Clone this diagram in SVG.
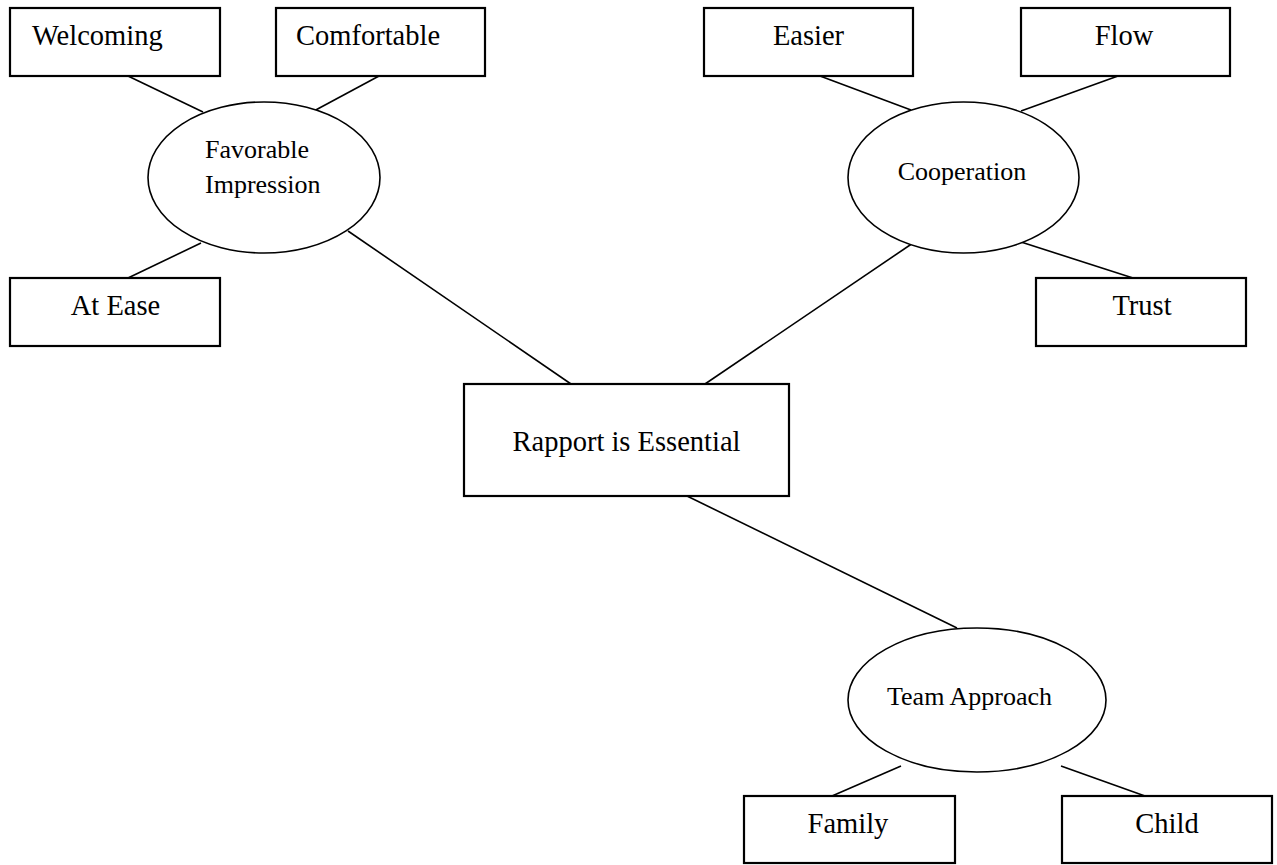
<svg xmlns="http://www.w3.org/2000/svg" width="1277" height="865" viewBox="0 0 1277 865">
<style>
.box{fill:#fff;stroke:#000;stroke-width:2.2}
.ell{fill:#fff;stroke:#000;stroke-width:1.6}
.con line{stroke:#000;stroke-width:1.6}
.t{font-family:"Liberation Serif","Times New Roman",serif;font-size:28.5px;fill:#000}
.s{font-family:"Liberation Serif","Times New Roman",serif;font-size:26px;fill:#000}
</style>
<rect width="1277" height="865" fill="#fff"/>
<g class="con" id="connectors">
<line x1="128" y1="76" x2="203" y2="112"/>
<line x1="379" y1="76" x2="312" y2="112"/>
<line x1="201" y1="243" x2="128" y2="278"/>
<line x1="348" y1="231" x2="571" y2="384"/>
<line x1="820" y1="76" x2="911" y2="110"/>
<line x1="1118" y1="76" x2="1021" y2="111"/>
<line x1="913" y1="243" x2="705" y2="384"/>
<line x1="1021" y1="242" x2="1133" y2="278"/>
<line x1="687" y1="496" x2="957" y2="628"/>
<line x1="901" y1="766" x2="832" y2="796"/>
<line x1="1061" y1="766" x2="1145" y2="796"/>
</g>
<g id="welcoming"><rect class="box" x="10" y="8" width="210" height="68"/><text class="t" x="32" y="45">Welcoming</text></g>
<g id="comfortable"><rect class="box" x="276" y="8" width="209" height="68"/><text class="t" x="296" y="45">Comfortable</text></g>
<g id="favorable"><ellipse class="ell" cx="264" cy="177.5" rx="116" ry="75.5"/><text class="s" x="205" y="158">Favorable</text><text class="s" x="205" y="193">Impression</text></g>
<g id="atease"><rect class="box" x="10" y="278" width="210" height="68"/><text class="t" x="115.5" y="315" text-anchor="middle">At Ease</text></g>
<g id="easier"><rect class="box" x="704" y="8" width="209" height="68"/><text class="t" x="808.5" y="45" text-anchor="middle">Easier</text></g>
<g id="flow"><rect class="box" x="1021" y="8" width="209" height="68"/><text class="t" x="1124" y="45" text-anchor="middle">Flow</text></g>
<g id="cooperation"><ellipse class="ell" cx="963.5" cy="177.5" rx="115.5" ry="75.5"/><text class="s" x="962" y="180" text-anchor="middle">Cooperation</text></g>
<g id="trust"><rect class="box" x="1036" y="278" width="210" height="68"/><text class="t" x="1142" y="315" text-anchor="middle">Trust</text></g>
<g id="rapport"><rect class="box" x="464" y="384" width="325" height="112"/><text class="t" x="626.5" y="451" text-anchor="middle">Rapport is Essential</text></g>
<g id="team"><ellipse class="ell" cx="977" cy="700" rx="129" ry="72"/><text class="s" x="969.5" y="705" text-anchor="middle">Team Approach</text></g>
<g id="family"><rect class="box" x="744" y="796" width="211" height="67"/><text class="t" x="848" y="833" text-anchor="middle">Family</text></g>
<g id="child"><rect class="box" x="1062" y="796" width="210" height="67"/><text class="t" x="1167" y="833" text-anchor="middle">Child</text></g>
</svg>
